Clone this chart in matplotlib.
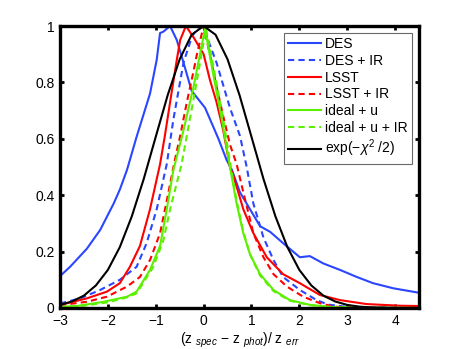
import matplotlib
matplotlib.use("Agg")
from matplotlib import pyplot as plt

plt.rcParams["font.family"] = ["Liberation Sans", "DejaVu Sans"]
plt.rcParams["mathtext.fontset"] = "custom"
plt.rcParams["mathtext.rm"] = "Liberation Sans"
plt.rcParams["mathtext.it"] = "Liberation Sans:italic"
plt.rcParams["mathtext.sf"] = "Liberation Sans"

# curves (x = (z_spec - z_phot)/z_err, y = normalised count)
des_x = [-3, -2.79, -2.44, -2.16, -1.88, -1.75, -1.6, -1.4, -1.12, -0.98, -0.91, -0.84, -0.7,
         -0.56, -0.42, -0.25, -0.11, 0.03, 0.31, 0.48, 0.59, 0.76, 0.97, 1.18, 1.39, 1.66, 2.01,
         2.22, 2.5, 2.85, 3.2, 3.54, 3.96, 4.5]
des_y = [0.113, 0.146, 0.21, 0.277, 0.37, 0.42, 0.49, 0.607, 0.76, 0.88, 0.975, 0.98, 1.0,
         0.95, 0.87, 0.77, 0.74, 0.71, 0.60, 0.525, 0.49, 0.41, 0.35, 0.29, 0.27, 0.23, 0.18,
         0.184, 0.158, 0.135, 0.11, 0.088, 0.07, 0.054]

des_ir_x = [-3, -2.93, -2.58, -2.16, -1.75, -1.40, -1.19, -0.98, -0.77, -0.63, -0.42, -0.25,
            -0.1, 0.05, 0.27, 0.55, 0.76, 0.90, 1.04, 1.25, 1.46, 1.66, 2.01, 2.36, 2.6, 3.0, 4.5]
des_ir_y = [0.017, 0.019, 0.034, 0.064, 0.10, 0.146, 0.23, 0.35, 0.51, 0.67, 0.87, 0.96,
            1.0, 0.97, 0.87, 0.71, 0.61, 0.50, 0.37, 0.25, 0.17, 0.11, 0.064, 0.028, 0.012, 0.004, 0.0]

lsst_x = [-3, -2.44, -2.02, -1.75, -1.54, -1.33, -1.12, -0.91, -0.81, -0.70, -0.56, -0.49,
          -0.37, -0.21, 0.0, 0.13, 0.27, 0.41, 0.55, 0.62, 0.83, 1.04, 1.32, 1.66, 2.01, 2.43,
          2.85, 3.4, 4.1, 4.5]
lsst_y = [0.011, 0.034, 0.058, 0.088, 0.146, 0.22, 0.35, 0.51, 0.61, 0.73, 0.88, 0.95,
          1.0, 0.96, 0.90, 0.81, 0.73, 0.63, 0.50, 0.47, 0.35, 0.265, 0.18, 0.12, 0.088, 0.046,
          0.028, 0.014, 0.008, 0.007]

lsst_ir_x = [-3, -2.44, -2.02, -1.6, -1.33, -1.12, -0.91, -0.77, -0.6, -0.49, -0.35, -0.21,
             -0.14, 0.0, 0.13, 0.27, 0.41, 0.55, 0.69, 0.83, 1.04, 1.25, 1.46, 1.74, 2.08, 2.43,
             2.71, 3.0, 4.5]
lsst_ir_y = [0.01, 0.022, 0.04, 0.076, 0.11, 0.17, 0.265, 0.38, 0.525, 0.61, 0.73, 0.84,
             0.90, 1.0, 0.90, 0.785, 0.68, 0.58, 0.51, 0.41, 0.265, 0.18, 0.12, 0.076, 0.04, 0.017,
             0.005, 0.002, 0.0]

ideal_x = [-3, -2.65, -2.09, -1.6, -1.4, -1.12, -0.91, -0.77, -0.63, -0.42, -0.21, 0.03, 0.2,
           0.4, 0.55, 0.69, 0.83, 0.97, 1.18, 1.46, 1.80, 2.22, 2.7, 3.2, 4.5]
ideal_y = [0.004, 0.007, 0.022, 0.04, 0.058, 0.135, 0.22, 0.35, 0.49, 0.63, 0.785, 0.99, 0.83,
           0.65, 0.50, 0.37, 0.265, 0.19, 0.12, 0.064, 0.028, 0.011, 0.003, 0.001, 0.0]

ideal_ir_x = [-3, -2.5, -2.0, -1.6, -1.4, -1.05, -0.84, -0.70, -0.46, -0.2, 0.05, 0.2, 0.4,
              0.55, 0.69, 0.83, 0.97, 1.18, 1.46, 1.80, 2.22, 2.7, 3.2, 4.5]
ideal_ir_y = [0.003, 0.008, 0.02, 0.038, 0.052, 0.146, 0.24, 0.35, 0.51, 0.75, 0.99, 0.86, 0.68,
              0.52, 0.38, 0.27, 0.19, 0.115, 0.06, 0.026, 0.01, 0.003, 0.001, 0.0]

chi_x = [-3, -2.75, -2.5, -2.25, -2, -1.75, -1.5, -1.25, -1, -0.75, -0.5, -0.25, 0, 0.25, 0.5,
         0.75, 1, 1.25, 1.5, 1.75, 2, 2.25, 2.5, 2.75, 3, 3.25, 3.5, 3.75, 4, 4.25, 4.5]
chi_y = [0.011, 0.023, 0.044, 0.080, 0.135, 0.216, 0.325, 0.458, 0.607, 0.755, 0.882, 0.969, 1.0,
         0.969, 0.882, 0.755, 0.607, 0.458, 0.325, 0.216, 0.135, 0.080, 0.044, 0.023, 0.011,
         0.005, 0.002, 0.001, 0.0, 0.0, 0.0]

x_ticks = [-3, -2, -1, 0, 1, 2, 3, 4]
y_ticks = [0, 0.2, 0.4, 0.6, 0.8, 1]
y_tick_labels = ["0", "0.2", "0.4", "0.6", "0.8", "1"]

blue = "#2a46ff"
red = "#ff0000"
green = "#5cf000"
lw = 1.5
dash = (3, 2)

fig = plt.figure(figsize=(4.63, 3.49), dpi=100)
ax = fig.add_axes([0.1296, 0.1175, 0.7754, 0.808])

ax.plot(des_x, des_y, color=blue, lw=lw, label="DES")
ax.plot(des_ir_x, des_ir_y, color=blue, lw=lw, ls="--", dashes=dash, label="DES + IR")
ax.plot(lsst_x, lsst_y, color=red, lw=lw, label="LSST")
ax.plot(lsst_ir_x, lsst_ir_y, color=red, lw=lw, ls="--", dashes=dash, label="LSST + IR")
ax.plot(ideal_x, ideal_y, color=green, lw=lw, label="ideal + u")
ax.plot(ideal_ir_x, ideal_ir_y, color=green, lw=lw, ls="--", dashes=dash, label="ideal + u + IR")
ax.plot(chi_x, chi_y, color="black", lw=lw, label=r"exp($-\chi^2$ /2)")

ax.set_xlim(-3, 4.5)
ax.set_ylim(0, 1)
ax.set_xticks(x_ticks)
ax.set_yticks(y_ticks)
ax.set_yticklabels(y_tick_labels)
ax.tick_params(direction="in", top=True, right=True, length=3, width=2, labelsize=10, pad=4)
for s in ax.spines.values():
    s.set_linewidth(2.4)

ax.set_xlabel(r"(z $_{\mathit{spec}}$ $-$ z $_{\mathit{phot}}$)/ z $_{\mathit{err}}$", fontsize=10, labelpad=2)

leg = ax.legend(loc="upper right", fontsize=10, frameon=True, fancybox=False,
                labelspacing=0.2, handlelength=2.4, handletextpad=0.3, borderpad=0.3,
                borderaxespad=0.5)
leg.get_frame().set_edgecolor("#444444")
leg.get_frame().set_linewidth(0.8)

fig.savefig("out.png", dpi=100)
